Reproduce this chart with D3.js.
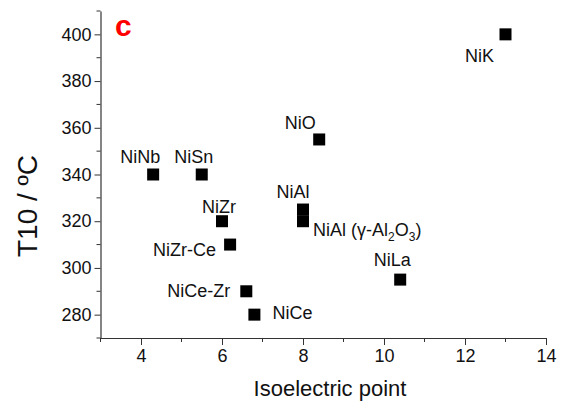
<!DOCTYPE html>
<html><head><meta charset="utf-8">
<script src="https://cdn.jsdelivr.net/npm/d3@7"></script>
<style>
body{margin:0;background:#fff;}
svg{display:block;font-family:"Liberation Sans",Arial,sans-serif;}
</style></head>
<body>
<svg id="c" width="563" height="406"></svg>
<script>
// Data
const categories = ["NiK","NiO","NiNb","NiSn","NiZr","NiZr-Ce","NiCe-Zr","NiCe","NiAl","NiAl (γ-Al2O3)","NiLa"];
const isoPoint   = [13, 8.4, 4.3, 5.5, 6.0, 6.2, 6.6, 6.8, 8.0, 8.0, 10.4];
const t10        = [400, 355, 340, 340, 320, 310, 290, 280, 325, 320, 295];
const xTicks = [4, 6, 8, 10, 12, 14];
const yTicks = [280, 300, 320, 340, 360, 380, 400];

// Layout (label placement relative to marker, in px)
const labelPos = {
  "NiK": {dx:-26, dy:28, a:"middle"},
  "NiO": {dx:-19, dy:-10, a:"middle"},
  "NiNb": {dx:-13, dy:-12, a:"middle"},
  "NiSn": {dx:-8, dy:-12, a:"middle"},
  "NiZr": {dx:-3, dy:-8, a:"middle"},
  "NiZr-Ce": {dx:-14, dy:11, a:"end"},
  "NiCe-Zr": {dx:-16, dy:6, a:"end"},
  "NiCe": {dx:18, dy:4, a:"start"},
  "NiAl": {dx:-10, dy:-12, a:"middle"},
  "NiAl (γ-Al2O3)": {dx:10, dy:15, a:"start"},
  "NiLa": {dx:-8, dy:-14, a:"middle"}
};

const svg = d3.select("#c");
const L = 100.5, R = 546, T = 11, B = 338;
const x = d3.scaleLinear().domain([3, 14]).range([L, R]);
const y = d3.scaleLinear().domain([270, 410]).range([B, T]);
const axisColor = "#333";

// Minor ticks
const xMinor = d3.range(3, 14.01, 1).filter(v => v % 2 !== 0);
const yMinor = d3.range(270, 410.01, 10).filter(v => v % 20 !== 0);

const gx = svg.append("g").attr("transform", `translate(0,${B})`);
gx.call(d3.axisBottom(x).tickValues(xTicks).tickSize(7).tickSizeOuter(0).tickPadding(4).tickFormat(d3.format("d")));
gx.selectAll(".minor").data(xMinor).enter().append("line")
  .attr("x1", d => x(d)).attr("x2", d => x(d)).attr("y1", 0).attr("y2", 4)
  .attr("stroke", axisColor);
gx.select(".domain").attr("stroke", axisColor).attr("stroke-width", 1.2);
gx.selectAll(".tick line").attr("stroke", axisColor);
gx.selectAll(".tick text").attr("font-size", 18).attr("fill", "#111").attr("font-family", "Liberation Sans, Arial, sans-serif");

const gy = svg.append("g").attr("transform", `translate(${L},0)`);
gy.call(d3.axisLeft(y).tickValues(yTicks).tickSize(6).tickSizeOuter(0).tickPadding(3).tickFormat(d3.format("d")));
gy.selectAll(".minor").data(yMinor).enter().append("line")
  .attr("y1", d => y(d)).attr("y2", d => y(d)).attr("x1", 0).attr("x2", -4)
  .attr("stroke", axisColor);
gy.select(".domain").attr("stroke", axisColor).attr("stroke-width", 1.2);
gy.selectAll(".tick line").attr("stroke", axisColor);
gy.selectAll(".tick text").attr("font-size", 18).attr("fill", "#111").attr("font-family", "Liberation Sans, Arial, sans-serif");

// Axis titles
svg.append("text").attr("x", 330).attr("y", 396).attr("text-anchor", "middle")
  .attr("font-size", 22).attr("fill", "#111").text("Isoelectric point");
svg.append("text").attr("transform", `translate(37,206) rotate(-90)`).attr("text-anchor", "middle")
  .attr("font-size", 28).attr("fill", "#111").text("T10 / ºC");

// Panel letter
svg.append("text").attr("x", 115).attr("y", 36).attr("font-size", 30).attr("font-weight", "bold")
  .attr("fill", "#ff0000").text("c");

// Markers
const pts = categories.map((c, i) => ({c, x: isoPoint[i], y: t10[i]}));
const ms = 12;
svg.selectAll("rect.pt").data(pts).enter().append("rect").attr("class", "pt")
  .attr("x", d => x(d.x) - ms / 2).attr("y", d => y(d.y) - ms / 2)
  .attr("width", ms).attr("height", ms).attr("fill", "#000");

// Labels
pts.forEach(d => {
  const p = labelPos[d.c];
  const t = svg.append("text").attr("x", x(d.x) + p.dx).attr("y", y(d.y) + p.dy)
    .attr("text-anchor", p.a).attr("font-size", 18).attr("fill", "#111");
  if (d.c === "NiAl (γ-Al2O3)") {
    t.append("tspan").text("NiAl (γ-Al");
    t.append("tspan").attr("dy", 5).attr("font-size", 12).text("2");
    t.append("tspan").attr("dy", -5).text("O");
    t.append("tspan").attr("dy", 5).attr("font-size", 12).text("3");
    t.append("tspan").attr("dy", -5).text(")");
  } else {
    t.text(d.c);
  }
});
</script>
</body></html>
